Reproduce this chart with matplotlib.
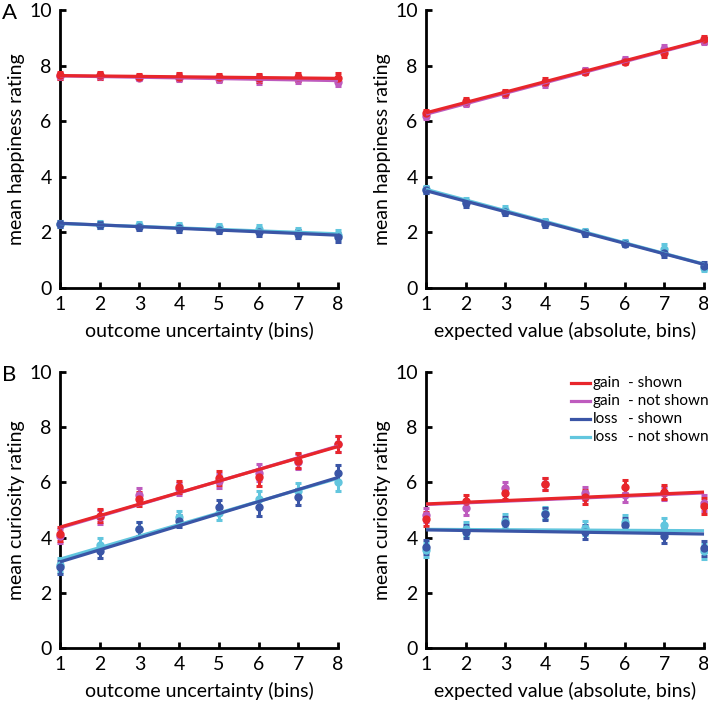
import numpy as np
import matplotlib
matplotlib.use("Agg")
import matplotlib.pyplot as plt

plt.rcParams["font.family"] = ["Lato", "DejaVu Sans"]

bins = [1, 2, 3, 4, 5, 6, 7, 8]
series_names = ["gain  - shown", "gain  - not shown", "loss  - shown", "loss  - not shown"]

# --- A, left: happiness vs outcome uncertainty
hap_unc_gain_shown = [7.65, 7.65, 7.60, 7.60, 7.58, 7.55, 7.60, 7.57]
hap_unc_gain_hidden = [7.62, 7.62, 7.57, 7.57, 7.52, 7.50, 7.52, 7.40]
hap_unc_loss_shown = [2.30, 2.27, 2.20, 2.15, 2.10, 2.02, 1.95, 1.82]
hap_unc_loss_hidden = [2.30, 2.28, 2.27, 2.22, 2.20, 2.12, 2.02, 1.92]
hap_unc_fit = [(7.64, 7.54), (7.63, 7.46), (2.33, 1.90), (2.32, 1.95)]
hap_unc_err = [0.12, 0.12, 0.10, 0.12, 0.12, 0.15, 0.15, 0.15]

# --- A, right: happiness vs expected value
hap_ev_gain_shown = [6.30, 6.72, 7.02, 7.42, 7.78, 8.14, 8.46, 8.95]
hap_ev_gain_hidden = [6.20, 6.65, 6.98, 7.36, 7.80, 8.20, 8.58, 8.88]
hap_ev_loss_shown = [3.52, 3.05, 2.74, 2.32, 1.98, 1.60, 1.27, 0.80]
hap_ev_loss_hidden = [3.55, 3.10, 2.82, 2.38, 2.02, 1.62, 1.42, 0.72]
hap_ev_fit = [(6.30, 8.92), (6.25, 8.90), (3.50, 0.85), (3.55, 0.86)]
hap_ev_err = [0.12, 0.12, 0.12, 0.12, 0.10, 0.10, 0.15, 0.12]

# --- B, left: curiosity vs outcome uncertainty
cur_unc_gain_shown = [4.14, 4.80, 5.40, 5.83, 6.16, 6.18, 6.79, 7.39]
cur_unc_gain_hidden = [4.05, 4.75, 5.55, 5.75, 6.05, 6.35, 6.75, 7.40]
cur_unc_loss_shown = [2.92, 3.52, 4.30, 4.60, 5.10, 5.10, 5.47, 6.34]
cur_unc_loss_hidden = [3.00, 3.75, 4.30, 4.75, 4.90, 5.40, 5.70, 6.00]
cur_unc_fit = [(4.38, 7.30), (4.35, 7.32), (3.12, 6.18), (3.22, 6.15)]
cur_unc_err = [0.25, 0.25, 0.25, 0.22, 0.25, 0.30, 0.28, 0.30]

# --- B, right: curiosity vs expected value
cur_ev_gain_shown = [4.67, 5.31, 5.61, 5.95, 5.47, 5.85, 5.64, 5.15]
cur_ev_gain_hidden = [4.82, 5.08, 5.80, 5.95, 5.60, 5.55, 5.60, 5.25]
cur_ev_loss_shown = [3.67, 4.22, 4.52, 4.86, 4.20, 4.46, 4.06, 3.61]
cur_ev_loss_hidden = [3.55, 4.30, 4.62, 4.88, 4.35, 4.56, 4.45, 3.50]
cur_ev_fit = [(5.22, 5.65), (5.20, 5.62), (4.28, 4.13), (4.30, 4.25)]
cur_ev_err = [0.25, 0.25, 0.22, 0.22, 0.25, 0.25, 0.25, 0.28]

colors = ["#E8262B", "#BE5BBE", "#3A55A6", "#62C6DE"]

panels = [
    dict(pos=[0.0847, 0.5903, 0.3927, 0.3955],
         series=[hap_unc_gain_shown, hap_unc_gain_hidden, hap_unc_loss_shown, hap_unc_loss_hidden],
         fit=hap_unc_fit, err=hap_unc_err,
         xlabel="outcome uncertainty (bins)", ylabel="mean happiness rating", letter="A"),
    dict(pos=[0.6017, 0.5903, 0.3927, 0.3955],
         series=[hap_ev_gain_shown, hap_ev_gain_hidden, hap_ev_loss_shown, hap_ev_loss_hidden],
         fit=hap_ev_fit, err=hap_ev_err,
         xlabel="expected value (absolute, bins)", ylabel="mean happiness rating", letter=None),
    dict(pos=[0.0847, 0.0782, 0.3927, 0.3926],
         series=[cur_unc_gain_shown, cur_unc_gain_hidden, cur_unc_loss_shown, cur_unc_loss_hidden],
         fit=cur_unc_fit, err=cur_unc_err,
         xlabel="outcome uncertainty (bins)", ylabel="mean curiosity rating", letter="B"),
    dict(pos=[0.6017, 0.0782, 0.3927, 0.3926],
         series=[cur_ev_gain_shown, cur_ev_gain_hidden, cur_ev_loss_shown, cur_ev_loss_hidden],
         fit=cur_ev_fit, err=cur_ev_err,
         xlabel="expected value (absolute, bins)", ylabel="mean curiosity rating", letter=None),
]

fig = plt.figure(figsize=(7.08, 7.03), dpi=100)

# draw "not shown" first so the shown series sit on top
order = [1, 0, 3, 2]

for p in panels:
    ax = fig.add_axes(p["pos"])
    for i in order:
        ax.errorbar(bins, p["series"][i], yerr=p["err"], fmt="o", color=colors[i],
                    ms=5, elinewidth=2.2, capsize=2.2, capthick=2.2, clip_on=False, zorder=3)
        ax.plot([bins[0], bins[-1]], p["fit"][i], color=colors[i], lw=2.3,
                solid_capstyle="butt", clip_on=False, zorder=4)

    ax.set_xlim(1, 8)
    ax.set_ylim(0, 10)
    ax.set_xticks(bins)
    ax.set_yticks([0, 2, 4, 6, 8, 10])
    for s in ["top", "right"]:
        ax.spines[s].set_visible(False)
    for s in ["left", "bottom"]:
        ax.spines[s].set_linewidth(2.0)
    ax.tick_params(direction="in", length=4, width=2.0, labelsize=14, pad=6)
    ax.set_xlabel(p["xlabel"], fontsize=14, labelpad=6)
    ax.set_ylabel(p["ylabel"], fontsize=14, labelpad=3)

    if p["letter"]:
        ax.text(-0.21, 0.99, p["letter"], transform=ax.transAxes, fontsize=16,
                ha="left", va="center")

    # legend in the last panel, drawn by hand to line up the dashes
    if p is panels[-1]:
        for k, name in enumerate(series_names):
            yy = 0.96 - k * 0.065
            ax.plot([0.52, 0.59], [yy, yy], transform=ax.transAxes, color=colors[k], lw=2.3)
            first, rest = name.split("  ")
            ax.text(0.60, yy, first, transform=ax.transAxes, fontsize=11, va="center")
            ax.text(0.727, yy, rest, transform=ax.transAxes, fontsize=11, va="center")

fig.savefig("out.png", dpi=100)
